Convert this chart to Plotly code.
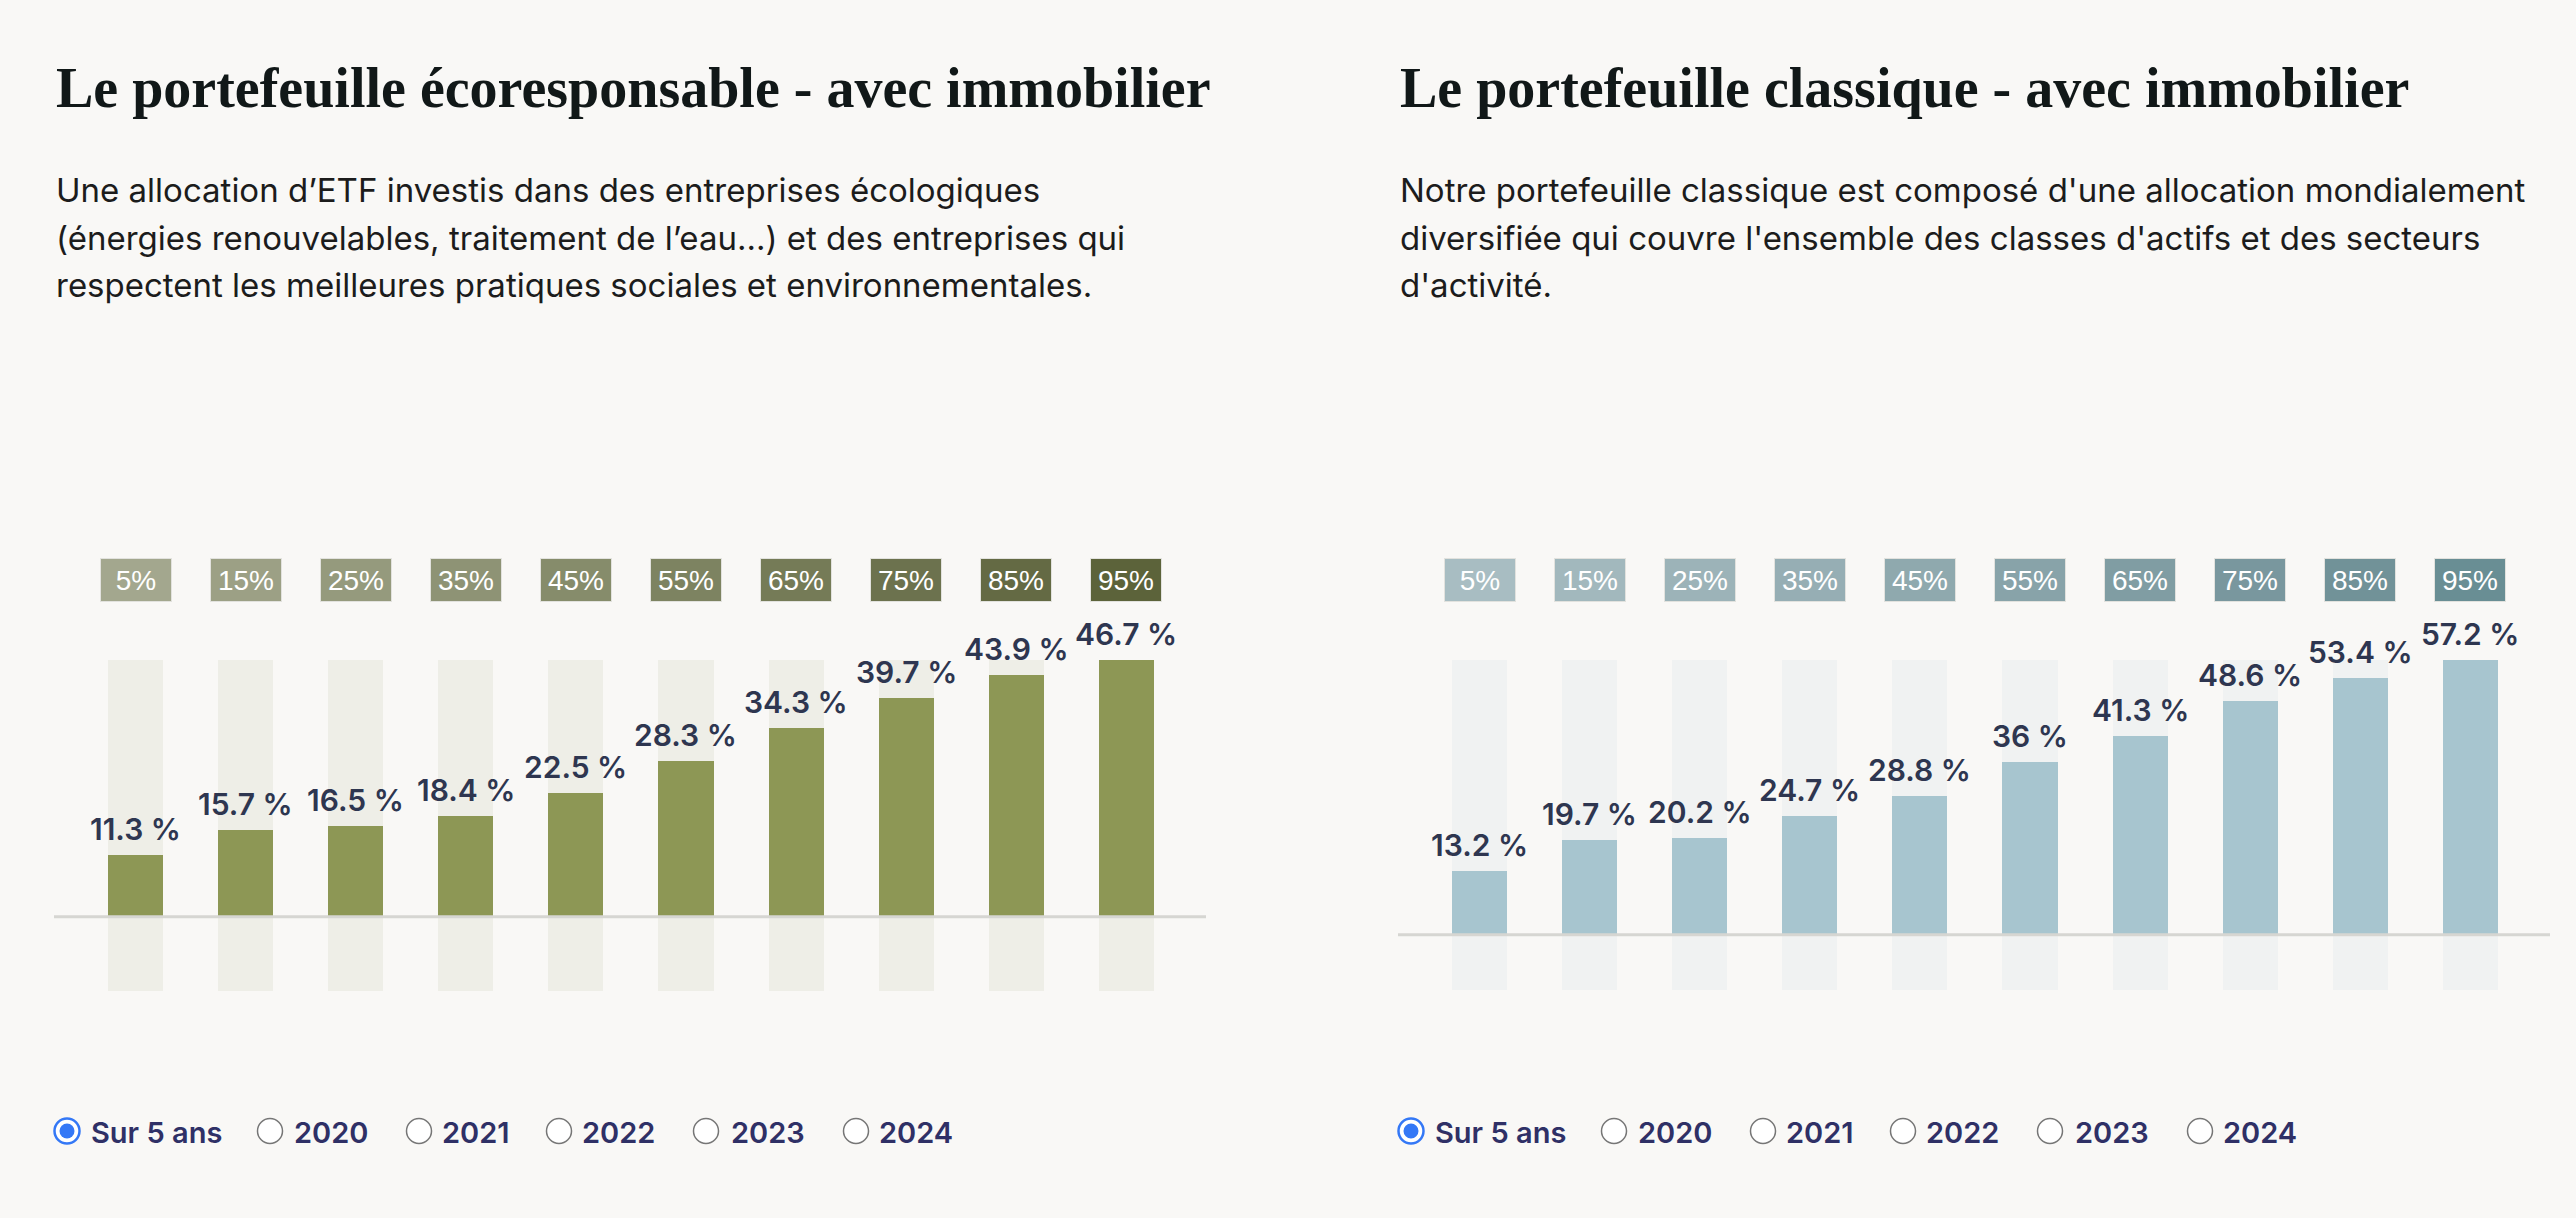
import plotly.graph_objects as go

W, H = 2576, 1218

# ---------------- data ----------------
categories = ["5%", "15%", "25%", "35%", "45%", "55%", "65%", "75%", "85%", "95%"]
eco_values = [11.3, 15.7, 16.5, 18.4, 22.5, 28.3, 34.3, 39.7, 43.9, 46.7]
classic_values = [13.2, 19.7, 20.2, 24.7, 28.8, 36.0, 41.3, 48.6, 53.4, 57.2]
eco_axis_min = -13.5
classic_axis_min = -11.5
radio_labels = ["Sur 5 ans", "2020", "2021", "2022", "2023", "2024"]

eco_title = "Le portefeuille écoresponsable - avec immobilier"
eco_desc = [
    "Une allocation d’ETF investis dans des entreprises écologiques",
    "(énergies renouvelables, traitement de l’eau…) et des entreprises qui",
    "respectent les meilleures pratiques sociales et environnementales.",
]
classic_title = "Le portefeuille classique - avec immobilier"
classic_desc = [
    "Notre portefeuille classique est composé d'une allocation mondialement",
    "diversifiée qui couvre l'ensemble des classes d'actifs et des secteurs",
    "d'activité.",
]

# ---------------- styles ----------------
BG = "#F9F8F6"
eco_badge_colors = ["#A3A78E", "#9CA085", "#959A7D", "#8E9375", "#868C6B",
                    "#7D8361", "#757B57", "#6C724E", "#646A44", "#5C633A"]
classic_badge_colors = ["#A8BDC2", "#A2B8BD", "#9CB3B8", "#96AEB4", "#8FA9AE",
                        "#88A3A9", "#809DA3", "#79979E", "#719298", "#698E94"]
panels = [
    dict(values=eco_values, amin=eco_axis_min, title=eco_title, desc=eco_desc,
         bar="#8D9755", track="#EEEEE7", badges=eco_badge_colors,
         x0=54, x1=1206, ybot=991, xs="x", ys="y", dx=0),
    dict(values=classic_values, amin=classic_axis_min, title=classic_title, desc=classic_desc,
         bar="#A7C5CF", track="#F0F2F2", badges=classic_badge_colors,
         x0=1398, x1=2550, ybot=990, xs="x2", ys="y2", dx=1344),
]

XR = [-0.745, 9.727]
YTOP = 660


def px(x):
    return x / W


def py(y):
    return 1 - y / H


fig = go.Figure()
annotations = []
shapes = []

for i, p in enumerate(panels):
    vals = p["values"]
    vmax = max(vals)
    # background tracks
    fig.add_trace(go.Bar(
        x=categories, y=[vmax - p["amin"]] * len(categories), base=p["amin"],
        marker=dict(color=p["track"], line=dict(width=0)), width=0.5,
        xaxis=p["xs"], yaxis=p["ys"], hoverinfo="skip", showlegend=False))
    # value bars
    fig.add_trace(go.Bar(
        x=categories, y=vals,
        marker=dict(color=p["bar"], line=dict(width=0)), width=0.5,
        xaxis=p["xs"], yaxis=p["ys"], showlegend=False))
    # baseline
    shapes.append(dict(type="line", xref=p["xs"], yref=p["ys"],
                       x0=XR[0], x1=XR[1], y0=0, y1=0,
                       line=dict(color="#D6D6D2", width=3), layer="above"))
    # value labels
    for c, v in zip(categories, vals):
        txt = (f"{v:g}" if v != int(v) else f"{int(v)}") + " %"
        annotations.append(dict(
            x=c, y=v, xref=p["xs"], yref=p["ys"], text=txt, showarrow=False,
            yanchor="bottom", yshift=6,
            font=dict(family="Inter", size=30, color="#2E3650", weight=600)))
    # badges
    for c, col in zip(categories, p["badges"]):
        annotations.append(dict(
            x=c, y=py(580), xref=p["xs"], yref="paper", text=c, showarrow=False,
            xanchor="center", yanchor="middle", width=70, height=42,
            bgcolor=col, bordercolor="#E2E2DE", borderwidth=1, borderpad=0,
            font=dict(family="Liberation Sans", size=28, color="#FFFFFF")))
    # title
    annotations.append(dict(
        x=px(54 + p["dx"]), y=py(88), xref="paper", yref="paper",
        text=p["title"], showarrow=False, xanchor="left", yanchor="middle",
        font=dict(family="Liberation Serif", size=56, color="#111818", weight=700)))
    # description lines
    for k, line in enumerate(p["desc"]):
        annotations.append(dict(
            x=px(54 + p["dx"]), y=py(190 + 47.5 * k), xref="paper", yref="paper",
            text=line, showarrow=False, xanchor="left", yanchor="middle",
            font=dict(family="Inter", size=33, color="#1C1C1C")))
    # radio buttons
    circle_x = [67, 270, 419, 559, 706, 856]
    text_x = [89, 292, 440, 580, 729, 877]
    r = 12.5
    cy = 1131
    for k, lab in enumerate(radio_labels):
        cx = circle_x[k] + p["dx"]
        if k == 0:
            shapes.append(dict(type="circle", xref="paper", yref="paper",
                               x0=px(cx - r), x1=px(cx + r), y0=py(cy + r), y1=py(cy - r),
                               fillcolor="#FFFFFF", line=dict(color="#3478F6", width=2.5)))
            shapes.append(dict(type="circle", xref="paper", yref="paper",
                               x0=px(cx - 7.5), x1=px(cx + 7.5), y0=py(cy + 7.5), y1=py(cy - 7.5),
                               fillcolor="#3478F6", line=dict(width=0)))
        else:
            shapes.append(dict(type="circle", xref="paper", yref="paper",
                               x0=px(cx - r), x1=px(cx + r), y0=py(cy + r), y1=py(cy - r),
                               fillcolor="#FFFFFF", line=dict(color="#767676", width=1.5)))
        annotations.append(dict(
            x=px(text_x[k] + p["dx"]), y=py(cy + 1), xref="paper", yref="paper",
            text=lab, showarrow=False, xanchor="left", yanchor="middle",
            font=dict(family="Inter", size=29, color="#2F3066", weight=600)))

layout_axes = {}
for i, p in enumerate(panels):
    sfx = "" if i == 0 else "2"
    layout_axes["xaxis" + sfx] = dict(domain=[px(p["x0"]), px(p["x1"])], range=XR,
                                      visible=False, type="category", fixedrange=True)
    layout_axes["yaxis" + sfx] = dict(domain=[py(p["ybot"]), py(YTOP)],
                                      range=[p["amin"], max(p["values"])],
                                      visible=False, fixedrange=True)

fig.update_layout(
    width=W, height=H, margin=dict(l=0, r=0, t=0, b=0),
    paper_bgcolor=BG, plot_bgcolor="rgba(0,0,0,0)",
    barmode="overlay", bargap=0, showlegend=False,
    annotations=annotations, shapes=shapes,
    **layout_axes,
)
for i in (0, 1):
    sfx = "" if i == 0 else "2"
    fig.layout["yaxis" + sfx].anchor = "x" + sfx
    fig.layout["xaxis" + sfx].anchor = "y" + sfx

fig.write_html(
    "out.html",
    config={"displayModeBar": False},
    post_script="document.body.style.margin='0';document.body.style.background='" + BG + "';",
)
